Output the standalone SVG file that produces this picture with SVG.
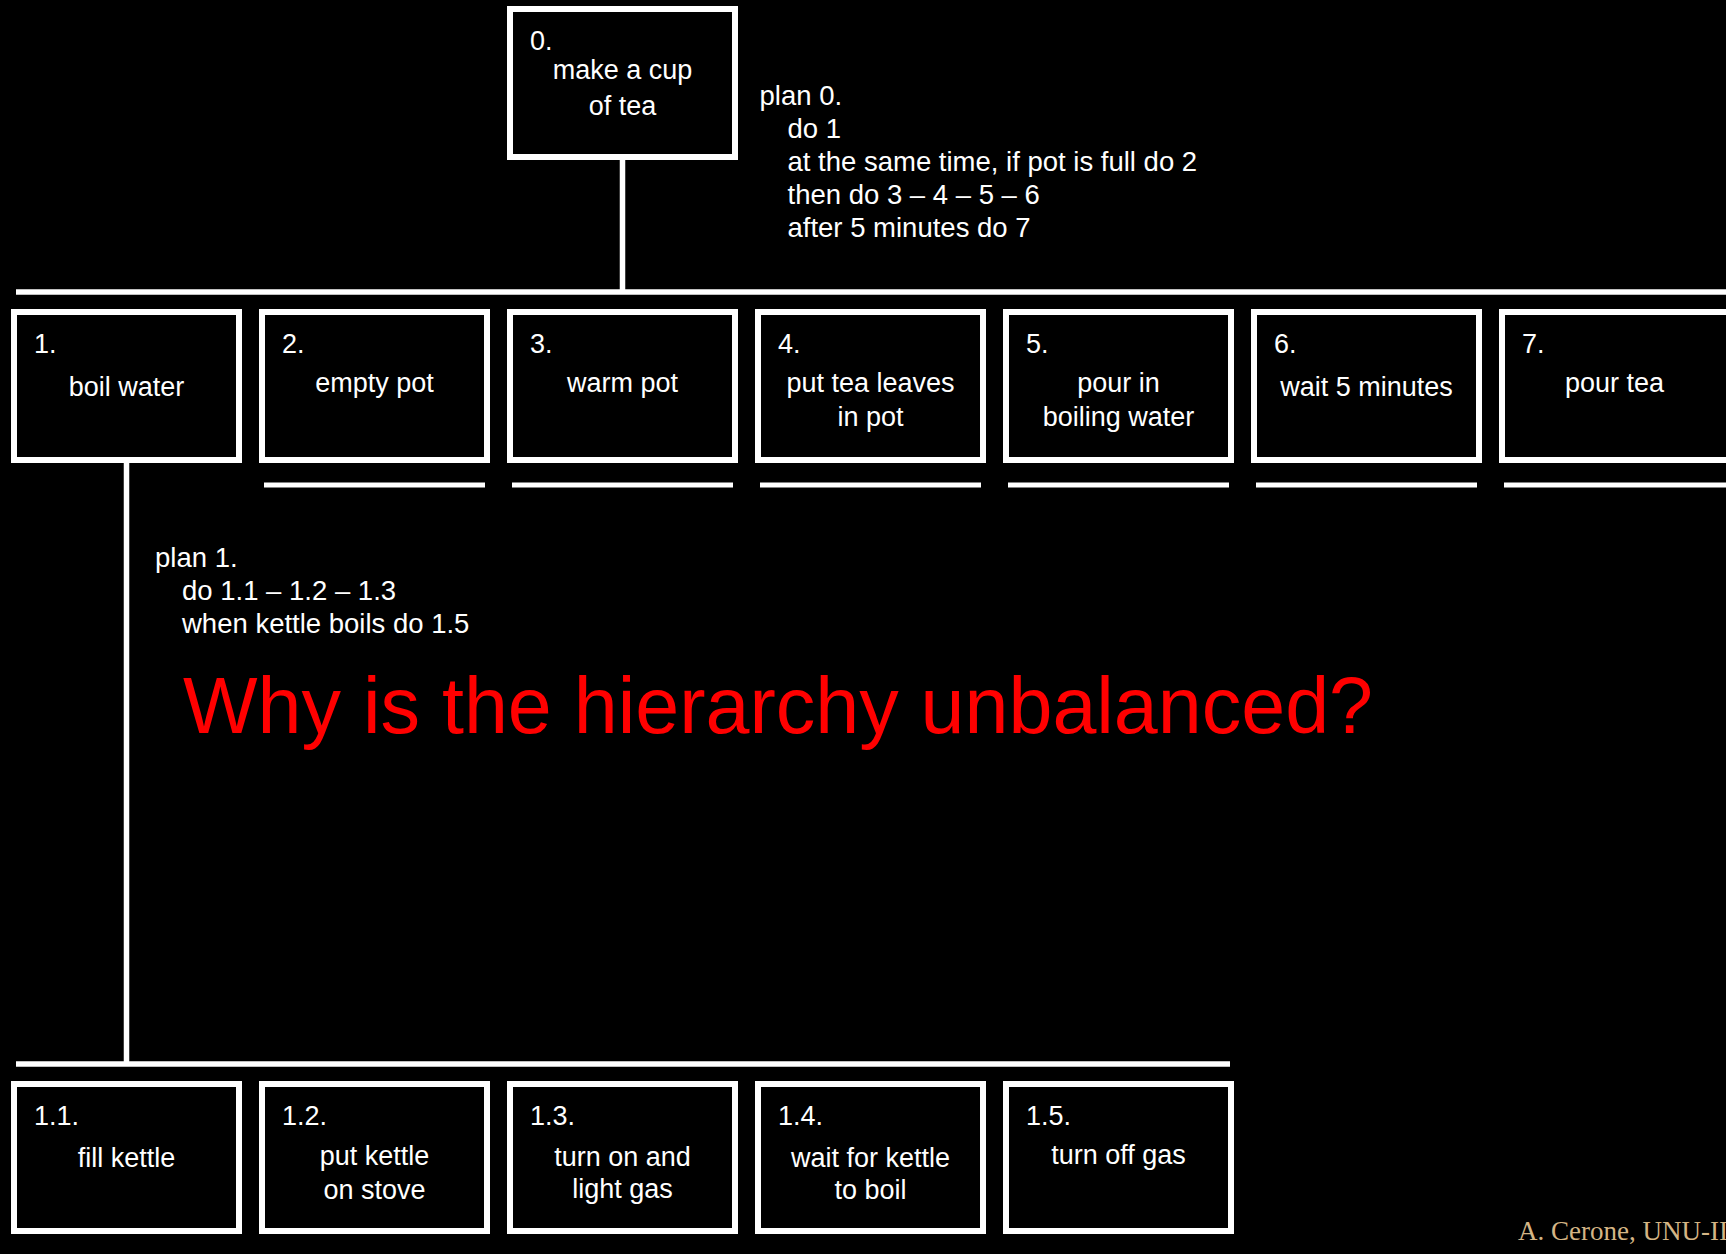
<svg xmlns="http://www.w3.org/2000/svg" width="1726" height="1254" viewBox="0 0 1726 1254">
  <style>
    .box { fill: #000; stroke: #fff; stroke-width: 6; }
    .bar { stroke: #fff; stroke-width: 5.5; fill: none; }
    .under { stroke: #fff; stroke-width: 5; fill: none; }
    text { font-family: "Liberation Sans", Arial, sans-serif; font-size: 27px; fill: #fff; }
    .c { text-anchor: middle; }
    .plan { font-size: 27.5px; }
    .q { font-size: 79px; fill: #ff0000; }
    .credit { font-family: "Liberation Serif", "Times New Roman", serif; font-size: 27px; fill: #d4b585; }
  </style>
  <rect x="0" y="0" width="1726" height="1254" fill="#000"/>

  <!-- tree connectors -->
  <g id="connectors">
    <line class="bar" x1="622.5" y1="157" x2="622.5" y2="292"/>
    <line class="bar" x1="16" y1="292" x2="1726" y2="292"/>
    <line class="bar" x1="126.5" y1="460" x2="126.5" y2="1064"/>
    <line class="bar" x1="16" y1="1064" x2="1230" y2="1064"/>
  </g>

  <!-- top goal -->
  <g id="node-0">
    <rect class="box" x="510" y="9" width="225" height="148"/>
    <text x="530" y="50">0.</text>
    <text class="c" x="622.5" y="79">make a cup</text>
    <text class="c" x="622.5" y="115">of tea</text>
  </g>

  <g id="plan-0" class="plan">
    <text class="plan" x="759.5" y="104.5">plan 0.</text>
    <text class="plan" x="787.5" y="137.5">do 1</text>
    <text class="plan" x="787.5" y="170.5">at the same time, if pot is full do 2</text>
    <text class="plan" x="787.5" y="203.5">then do 3 – 4 – 5 – 6</text>
    <text class="plan" x="787.5" y="236.5">after 5 minutes do 7</text>
  </g>

  <!-- level 1 subtasks -->
  <g id="node-1">
    <rect class="box" x="14" y="312" width="225" height="148"/>
    <text x="34" y="353">1.</text>
    <text class="c" x="126.5" y="396">boil water</text>
  </g>
  <g id="node-2">
    <rect class="box" x="262" y="312" width="225" height="148"/>
    <text x="282" y="353">2.</text>
    <text class="c" x="374.5" y="392">empty pot</text>
    <line class="under" x1="264" y1="485" x2="485" y2="485"/>
  </g>
  <g id="node-3">
    <rect class="box" x="510" y="312" width="225" height="148"/>
    <text x="530" y="353">3.</text>
    <text class="c" x="622.5" y="392">warm pot</text>
    <line class="under" x1="512" y1="485" x2="733" y2="485"/>
  </g>
  <g id="node-4">
    <rect class="box" x="758" y="312" width="225" height="148"/>
    <text x="778" y="353">4.</text>
    <text class="c" x="870.5" y="392">put tea leaves</text>
    <text class="c" x="870.5" y="426">in pot</text>
    <line class="under" x1="760" y1="485" x2="981" y2="485"/>
  </g>
  <g id="node-5">
    <rect class="box" x="1006" y="312" width="225" height="148"/>
    <text x="1026" y="353">5.</text>
    <text class="c" x="1118.5" y="392">pour in</text>
    <text class="c" x="1118.5" y="426">boiling water</text>
    <line class="under" x1="1008" y1="485" x2="1229" y2="485"/>
  </g>
  <g id="node-6">
    <rect class="box" x="1254" y="312" width="225" height="148"/>
    <text x="1274" y="353">6.</text>
    <text class="c" x="1366.5" y="396">wait 5 minutes</text>
    <line class="under" x1="1256" y1="485" x2="1477" y2="485"/>
  </g>
  <g id="node-7">
    <rect class="box" x="1502" y="312" width="230" height="148"/>
    <text x="1522" y="353">7.</text>
    <text class="c" x="1614.5" y="392">pour tea</text>
    <line class="under" x1="1504" y1="485" x2="1726" y2="485"/>
  </g>

  <g id="plan-1">
    <text class="plan" x="155" y="567">plan 1.</text>
    <text class="plan" x="182" y="600">do 1.1 – 1.2 – 1.3</text>
    <text class="plan" x="182" y="633">when kettle boils do 1.5</text>
  </g>

  <text class="q" x="183" y="733">Why is the hierarchy unbalanced?</text>

  <!-- level 2 subtasks of "boil water" -->
  <g id="node-1-1">
    <rect class="box" x="14" y="1084" width="225" height="147"/>
    <text x="34" y="1125">1.1.</text>
    <text class="c" x="126.5" y="1167">fill kettle</text>
  </g>
  <g id="node-1-2">
    <rect class="box" x="262" y="1084" width="225" height="147"/>
    <text x="282" y="1125">1.2.</text>
    <text class="c" x="374.5" y="1165">put kettle</text>
    <text class="c" x="374.5" y="1199">on stove</text>
  </g>
  <g id="node-1-3">
    <rect class="box" x="510" y="1084" width="225" height="147"/>
    <text x="530" y="1125">1.3.</text>
    <text class="c" x="622.5" y="1166">turn on and</text>
    <text class="c" x="622.5" y="1198">light gas</text>
  </g>
  <g id="node-1-4">
    <rect class="box" x="758" y="1084" width="225" height="147"/>
    <text x="778" y="1125">1.4.</text>
    <text class="c" x="870.5" y="1167">wait for kettle</text>
    <text class="c" x="870.5" y="1199">to boil</text>
  </g>
  <g id="node-1-5">
    <rect class="box" x="1006" y="1084" width="225" height="147"/>
    <text x="1026" y="1125">1.5.</text>
    <text class="c" x="1118.5" y="1164">turn off gas</text>
  </g>

  <text class="credit" x="1518" y="1240">A. Cerone, UNU-II</text>
</svg>
